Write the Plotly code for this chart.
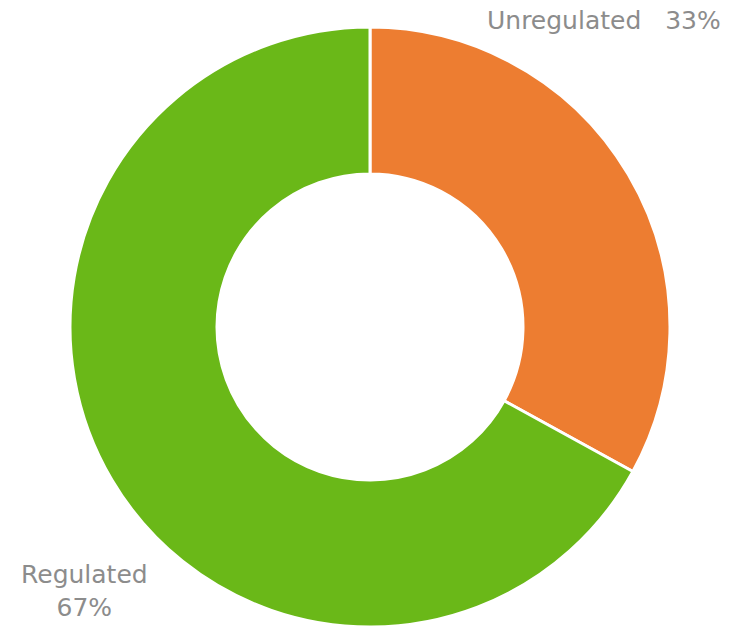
import plotly.graph_objects as go

labels = ["Unregulated", "Regulated"]
values = [33, 67]
colors = ["#ED7D31", "#6AB818"]

W, H = 730, 627
fig = go.Figure(go.Pie(
    labels=labels, values=values, hole=0.51, sort=False, direction="clockwise",
    rotation=0, textinfo="none", hoverinfo="label+percent",
    marker=dict(colors=colors, line=dict(color="white", width=3)),
    domain=dict(x=[70 / W, 670 / W], y=[0, 600 / H]),
    showlegend=False,
))

font = dict(family="DejaVu Sans", size=25, color="#8C8C8C")
fig.add_annotation(x=723 / W, y=1 - 21 / H, xref="paper", yref="paper",
                   text=f"{labels[0]}   {values[0]}%", showarrow=False,
                   xanchor="right", yanchor="middle", font=font)
fig.add_annotation(x=84 / W, y=1 - 591 / H, xref="paper", yref="paper",
                   text=f"{labels[1]}<br>{values[1]}%", showarrow=False,
                   xanchor="center", yanchor="middle", align="center", font=font)

fig.update_layout(width=W, height=H, margin=dict(l=0, r=0, t=0, b=0),
                  paper_bgcolor="white", plot_bgcolor="white")
fig.write_html("out.html", config={"displayModeBar": False},
               post_script="document.body.style.margin='0';document.body.style.overflow='hidden';")
